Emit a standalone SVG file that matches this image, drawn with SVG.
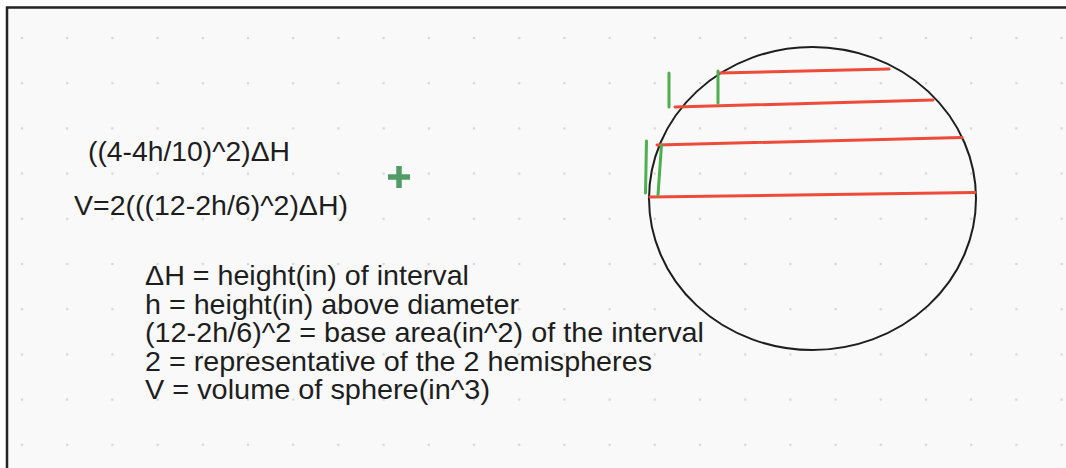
<svg xmlns="http://www.w3.org/2000/svg" width="1066" height="468" viewBox="0 0 1066 468">
<defs>
<pattern id="dots" x="22" y="38" width="45.2" height="45.2" patternUnits="userSpaceOnUse">
<circle cx="0" cy="0" r="1.3" fill="#d6d6d6"/>
<circle cx="45.2" cy="0" r="1.3" fill="#d6d6d6"/>
<circle cx="0" cy="45.2" r="1.3" fill="#d6d6d6"/>
<circle cx="45.2" cy="45.2" r="1.3" fill="#d6d6d6"/>
</pattern>
</defs>
<style>
.t{font-family:"Liberation Sans",Arial,sans-serif;fill:#1e1e1e}
.f{font-size:27px}
.d{font-size:28.5px}
.red{stroke:#ee4b3a;stroke-width:3;stroke-linecap:round;fill:none}
.grn{stroke:#4cb050;stroke-width:3;stroke-linecap:round;fill:none}
</style>
<rect x="0" y="0" width="1066" height="468" fill="#ffffff"/>
<rect x="7" y="7" width="1059" height="461" fill="#f9f9f9"/>
<rect x="7" y="7" width="1059" height="461" fill="url(#dots)"/>
<path d="M7,468 V7.5 H1066" fill="none" stroke="#222" stroke-width="2.5"/>

<g id="formulas">
<text class="t f" x="88" y="161" textLength="202" lengthAdjust="spacingAndGlyphs">((4-4h/10)^2)ΔH</text>
<text class="t f" x="74" y="215" textLength="274" lengthAdjust="spacingAndGlyphs">V=2(((12-2h/6)^2)ΔH)</text>
</g>

<g id="plus">
<path d="M388,177 H410 M399,166 V188" stroke="#519c66" stroke-width="5.5" fill="none"/>
</g>

<g id="legend">
<text class="t d" x="145" y="285" textLength="324" lengthAdjust="spacingAndGlyphs">ΔH = height(in) of interval</text>
<text class="t d" x="145" y="313.5" textLength="374" lengthAdjust="spacingAndGlyphs">h = height(in) above diameter</text>
<text class="t d" x="145" y="342" textLength="559" lengthAdjust="spacingAndGlyphs">(12-2h/6)^2 = base area(in^2) of the interval</text>
<text class="t d" x="145" y="370.5" textLength="507" lengthAdjust="spacingAndGlyphs">2 = representative of the 2 hemispheres</text>
<text class="t d" x="145" y="399" textLength="345" lengthAdjust="spacingAndGlyphs">V = volume of sphere(in^3)</text>
</g>

<g id="sphere">
<ellipse cx="812.5" cy="198.5" rx="163.5" ry="151.5" fill="none" stroke="#1e1e1e" stroke-width="2"/>
</g>

<g id="slices">
<line class="red" x1="720" y1="73" x2="889" y2="69"/>
<line class="red" x1="675" y1="107" x2="933" y2="100"/>
<line class="red" x1="657" y1="145" x2="962" y2="137.5"/>
<line class="red" x1="650" y1="197" x2="975" y2="192.5"/>
<line class="grn" x1="669" y1="73" x2="669" y2="107"/>
<line class="grn" x1="718" y1="71" x2="718" y2="103"/>
<line class="grn" x1="646.5" y1="141" x2="645.5" y2="193"/>
<line class="grn" x1="661.5" y1="145" x2="658" y2="195"/>
</g>
</svg>
